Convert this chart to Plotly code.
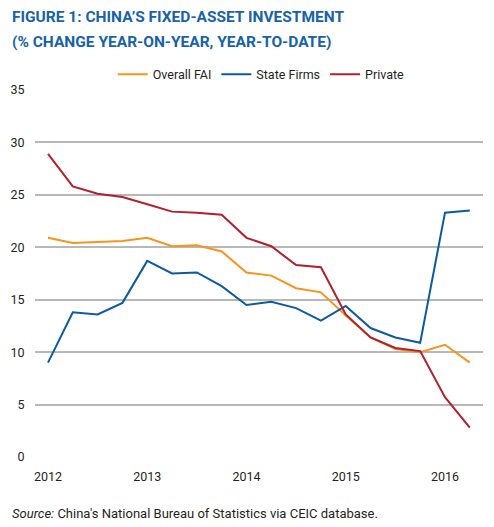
import plotly.graph_objects as go

quarters = [2012.0, 2012.25, 2012.5, 2012.75, 2013.0, 2013.25, 2013.5, 2013.75,
            2014.0, 2014.25, 2014.5, 2014.75, 2015.0, 2015.25, 2015.5, 2015.75,
            2016.0, 2016.25]
overall_fai = [20.9, 20.4, 20.5, 20.6, 20.9, 20.1, 20.2, 19.6,
               17.6, 17.3, 16.1, 15.7, 13.5, 11.4, 10.3, 10.0, 10.7, 9.0]
state_firms = [9.0, 13.8, 13.6, 14.7, 18.7, 17.5, 17.6, 16.3,
               14.5, 14.8, 14.2, 13.0, 14.4, 12.3, 11.4, 10.9, 23.3, 23.5]
private = [28.9, 25.8, 25.1, 24.8, 24.1, 23.4, 23.3, 23.1,
           20.9, 20.1, 18.3, 18.1, 13.6, 11.4, 10.4, 10.1, 5.7, 2.8]
year_ticks = [2012, 2013, 2014, 2015, 2016]
y_ticks = [0, 5, 10, 15, 20, 25, 30, 35]

FONT = "Roboto, sans-serif"
TXT = "#231f20"

fig = go.Figure()
fig.add_trace(go.Scatter(x=quarters, y=overall_fai, mode="lines", name="Overall FAI",
                         line=dict(color="#f7941d", width=2)))
fig.add_trace(go.Scatter(x=quarters, y=state_firms, mode="lines", name="State Firms",
                         line=dict(color="#0d5b9e", width=2)))
fig.add_trace(go.Scatter(x=quarters, y=private, mode="lines", name="Private",
                         line=dict(color="#b1202c", width=2)))

fig.update_layout(
    width=494, height=527,
    margin=dict(l=35, r=11, t=90, b=70),
    paper_bgcolor="white", plot_bgcolor="white",
    font=dict(family=FONT, size=13, color=TXT),
    showlegend=True,
    legend=dict(orientation="h", x=0.505, xanchor="center", y=1.042, yanchor="middle",
                font=dict(size=12.5, color=TXT), itemwidth=30, tracegroupgap=0,
                bgcolor="rgba(0,0,0,0)"),
    xaxis=dict(range=[2011.869, 2016.383], tickmode="array", tickvals=year_ticks,
               ticktext=[str(y) for y in year_ticks], showgrid=False, zeroline=False,
               showline=False, ticks="outside", ticklen=8, tickcolor="rgba(0,0,0,0)",
               tickfont=dict(size=12.5, color=TXT)),
    yaxis=dict(range=[0, 35], tickmode="array", tickvals=y_ticks, showgrid=True,
               gridcolor="#b8b8b8", gridwidth=1.5, zeroline=False, showline=False,
               ticks="outside", ticklen=7, tickcolor="rgba(0,0,0,0)",
               tickfont=dict(size=12.5, color=TXT)),
    annotations=[
        dict(text="<b>FIGURE 1: CHINA\u2019S FIXED-ASSET INVESTMENT</b>", xref="paper", yref="paper",
             x=-25/448, y=1 + (90 - 17) / 367, xanchor="left", yanchor="middle",
             showarrow=False, font=dict(family=FONT, size=15.5, color="#1763a6")),
        dict(text="<b>(% CHANGE YEAR-ON-YEAR, YEAR-TO-DATE)</b>", xref="paper", yref="paper",
             x=-25/448, y=1 + (90 - 42) / 367, xanchor="left", yanchor="middle",
             showarrow=False, font=dict(family=FONT, size=15.5, color="#1763a6")),
        dict(text="<i>Source:</i> China's National Bureau of Statistics via CEIC database.",
             xref="paper", yref="paper", x=-25/448, y=-(513 - 457) / 367,
             xanchor="left", yanchor="middle", showarrow=False,
             font=dict(family=FONT, size=13, color=TXT)),
    ],
)

fig.write_html("out.html")
